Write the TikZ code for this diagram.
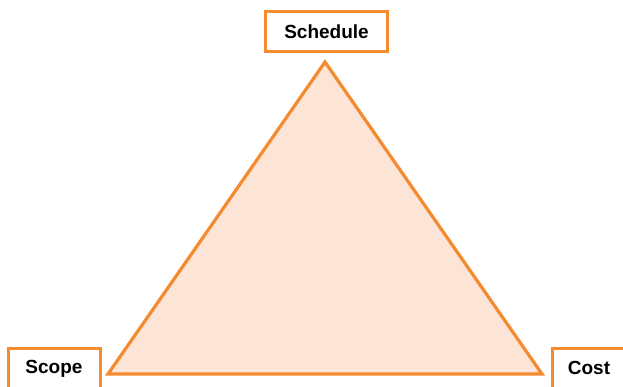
\documentclass[tikz,border=0pt]{standalone}
\usepackage{fontspec}
\setmainfont{Liberation Sans}
\definecolor{tri}{HTML}{F58B2F}
\definecolor{trifill}{HTML}{FCE4D6}
\begin{document}
\begin{tikzpicture}[x=1pt,y=-1pt,
  lbl/.style={draw=tri,line width=3pt,fill=white,font=\bfseries\fontsize{19}{22}\selectfont,text=black,inner sep=0pt},
  edge/.style={draw=tri,line width=3.2pt,line join=miter}]
\useasboundingbox (0,0) rectangle (623,387);
\clip (0,0) rectangle (623,387);
\coordinate (top) at (325,62);
\coordinate (bl) at (108,374);
\coordinate (br) at (542,374);
\filldraw[edge,fill=trifill] (top) -- (bl) -- (br) -- cycle;
\node[lbl,minimum width=122pt,minimum height=40pt] (schedule) at (326.5,31.5) {Schedule};
\node[lbl,minimum width=92pt,minimum height=42pt] (scope) at (54,369) {Scope};
\node[lbl,minimum width=74pt,minimum height=40pt] (cost) at (589,368) {Cost};
\end{tikzpicture}
\end{document}
